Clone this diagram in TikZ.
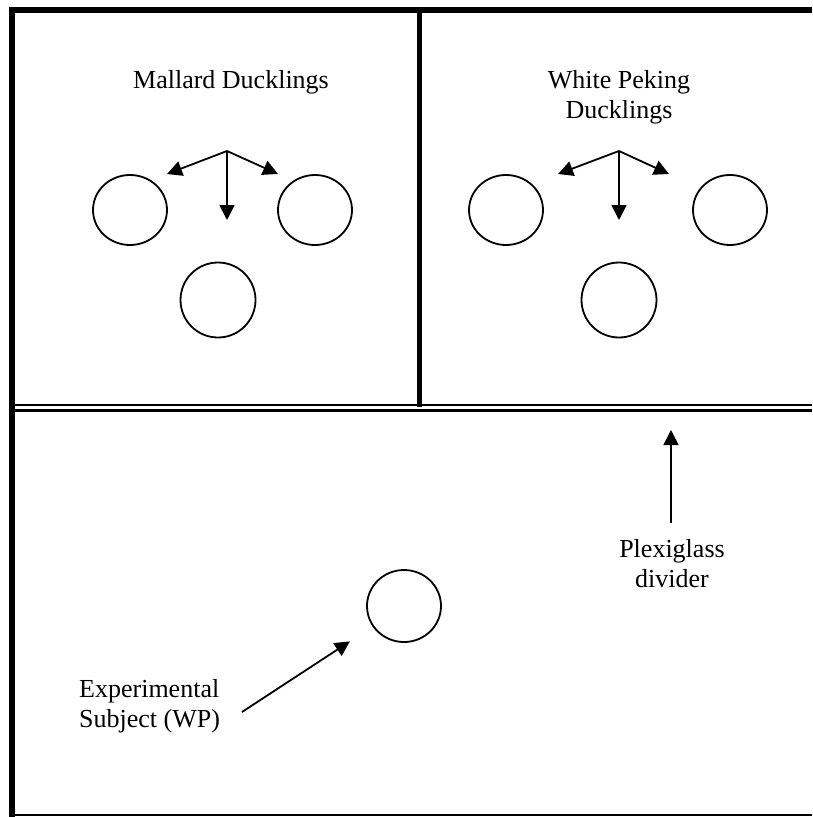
\documentclass[tikz,border=0pt]{standalone}
\usepackage{fontspec}
\setmainfont{Liberation Serif}
\usetikzlibrary{arrows.meta,shapes.geometric}
\begin{document}
\begin{tikzpicture}[x=1pt,y=-1pt,
  wall/.style={line width=6pt},
  thinwall/.style={line width=1.5pt},
  duck/.style={draw,ellipse,line width=1.8pt,inner sep=0pt},
  arr/.style={line width=1.8pt,-{Triangle[length=15pt,width=15pt]}},
  lbl/.style={font=\fontsize{26}{30}\selectfont,align=center,inner sep=0pt}]
\useasboundingbox (0,0) rectangle (812,817);
% outer walls
\draw[wall] (9,10) -- (812,10);
\draw[wall] (12,7) -- (12,817);
\draw[thinwall] (12,815) -- (812,815);
% middle wall
\draw[line width=5pt] (419,10) -- (419,407);
% plexiglass divider (double line)
\draw[line width=2.5pt] (12,405) -- (812,405);
\draw[line width=2.5pt] (12,410.5) -- (812,410.5);
% left panel
\node[lbl] (ml) at (231,82) {Mallard Ducklings};
\node[duck,minimum width=74pt,minimum height=70pt] (l1) at (130,210) {};
\node[duck,minimum width=74pt,minimum height=70pt] (l2) at (315,210) {};
\node[duck,minimum width=75pt,minimum height=75pt] (l3) at (218,300) {};
\coordinate (la) at (227,151);
\coordinate (lad) at (227,220);
\coordinate (lal) at (167,174);
\coordinate (lar) at (278,174);
\draw[arr] (la) -- (lad);
\draw[arr] (la) -- (lal);
\draw[arr] (la) -- (lar);
% right panel
\node[lbl] (wp) at (619,97) {White Peking\\Ducklings};
\node[duck,minimum width=74pt,minimum height=70pt] (r1) at (506,210) {};
\node[duck,minimum width=74pt,minimum height=70pt] (r2) at (730,210) {};
\node[duck,minimum width=75pt,minimum height=75pt] (r3) at (619,300) {};
\coordinate (ra) at (619,151);
\coordinate (rad) at (619,220);
\coordinate (ral) at (558,174);
\coordinate (rar) at (669,174);
\draw[arr] (ra) -- (rad);
\draw[arr] (ra) -- (ral);
\draw[arr] (ra) -- (rar);
% plexiglass label
\node[lbl] (pg) at (672,564) {Plexiglass\\divider};
\coordinate (pgt) at (671,430);
\coordinate (pgb) at (671,523);
\draw[arr] (pgb) -- (pgt);
% experimental subject
\node[duck,minimum width=74pt,minimum height=72pt] (es) at (404,606) {};
\node[lbl,align=left,anchor=west] (ex) at (79,706) {Experimental\\Subject (WP)};
\coordinate (ext) at (242,712);
\draw[arr,shorten >=27pt] (ext) -- (es);
\end{tikzpicture}
\end{document}
